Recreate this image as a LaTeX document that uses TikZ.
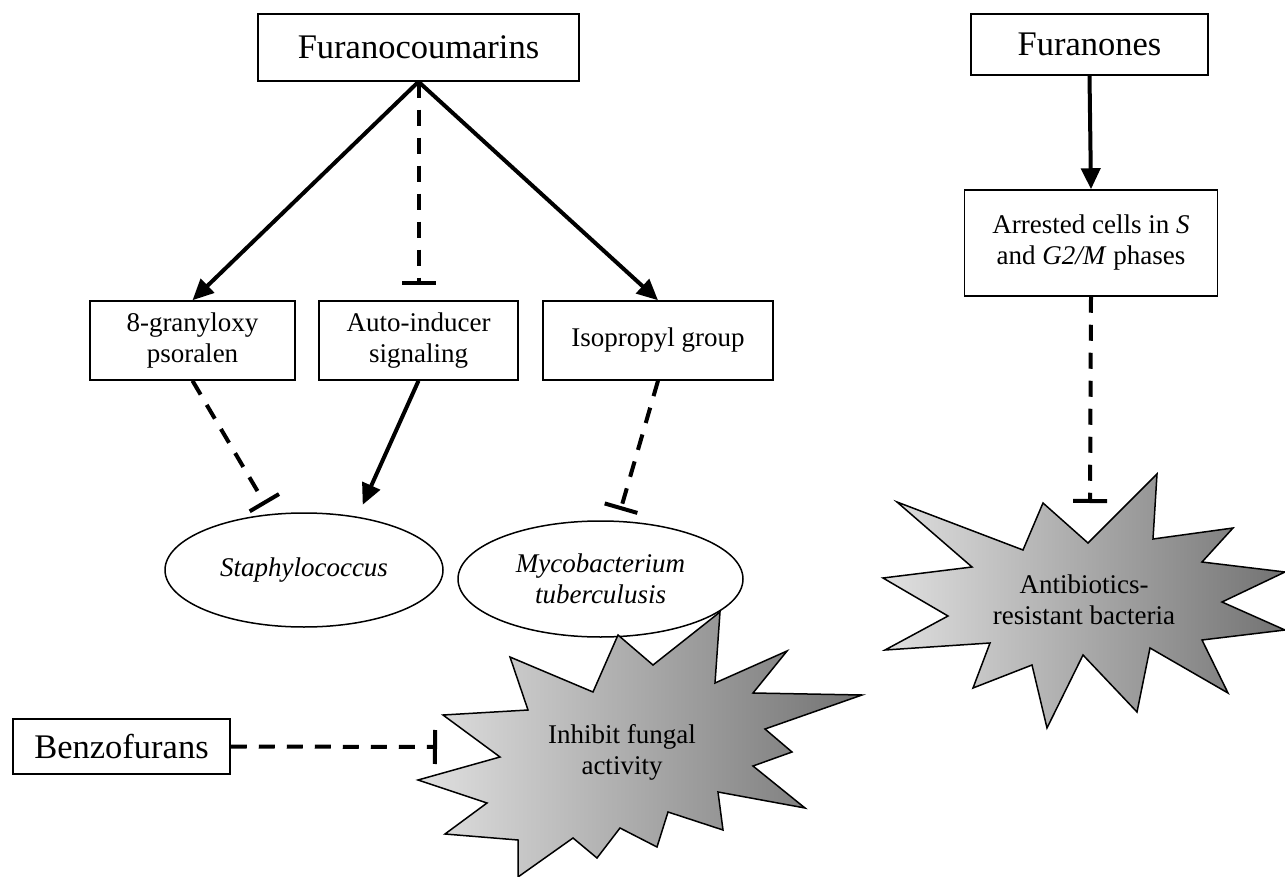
\documentclass[tikz,border=0pt]{standalone}
\usepackage{fontspec}
\setmainfont{Liberation Serif}
\usepackage{xcolor}
\usepackage{tikz}
\usetikzlibrary{shapes,arrows,arrows.meta}
\usetikzlibrary{positioning}
\tikzstyle{block} = [rectangle, draw, line width=1.5pt, fill=white,
    align=center, inner sep=0pt]
\tikzstyle{bigblock} = [block, font=\fontsize{34.5}{40}\selectfont]
\tikzstyle{smallblock} = [block, font=\fontsize{27}{31}\selectfont]
\tikzstyle{organism} = [ellipse, draw, line width=1.5pt, fill=white,
    align=center, inner sep=0pt, font=\fontsize{27}{31}\selectfont\itshape]
\tikzstyle{burst} = [draw, line width=1.5pt, left color=black!12,
    right color=black!55]
\tikzstyle{bursttext} = [align=center, font=\fontsize{27}{31}\selectfont]
\tikzstyle{line} = [draw, line width=4pt, -{Triangle[length=21pt,width=19pt]}]
\tikzstyle{inhibit} = [draw, line width=4pt, dash pattern=on 16pt off 12pt,
    -{Bar[width=34pt]}]

\begin{document}
\begin{tikzpicture}[x=1pt, y=-1pt]
  \useasboundingbox (0,0) rectangle (1285,877);
  % Place nodes
  \node [bigblock, minimum width=321, minimum height=67] (furano) at (418.5,47.5) {Furanocoumarins};
  \node [bigblock, minimum width=237, minimum height=61] (furanones) at (1089.5,44.5) {Furanones};
  \node [bigblock, minimum width=217, minimum height=55] (benzo) at (121.5,746.5) {Benzofurans};
  \node [smallblock, minimum width=205, minimum height=79] (gran) at (192.5,340.5) {8-granyloxy\\psoralen};
  \node [smallblock, minimum width=199, minimum height=79] (auto) at (418.5,340.5) {Auto-inducer\\signaling};
  \node [smallblock, minimum width=230, minimum height=79] (iso) at (658,340.5) {Isopropyl group};
  \node [smallblock, minimum width=253, minimum height=106] (arrested) at (1091,243)
    {Arrested cells in \textit{S}\\and \textit{G2/M} phases};
  \node [organism, minimum width=278, minimum height=114] (staph) at (304,570) {Staphylococcus};
  \node [organism, minimum width=285, minimum height=116] (myco) at (600.5,579) {Mycobacterium\\tuberculusis};
  % Bursts
  \draw [burst] (618,635) -- (653,665) -- (720,612) -- (715,683) -- (787,651)
    -- (753,693) -- (862,695) -- (765,729) -- (792,752) -- (753,766)
    -- (805,808) -- (718,792) -- (723,830) -- (668,812) -- (657,847)
    -- (620,828) -- (597,858) -- (573,838) -- (518,877) -- (518,840)
    -- (445,834) -- (487,803) -- (418,780) -- (500,757) -- (443,715)
    -- (528,710) -- (510,657) -- (593,692) -- cycle;
  \node [bursttext] (fungal) at (622,752) {Inhibit fungal\\activity};
  \draw [burst] (1157,474) -- (1153,539) -- (1233,528) -- (1202,562) -- (1285,572)
    -- (1222,602) -- (1285,630) -- (1202,640) -- (1228,693) -- (1150,648)
    -- (1137,712) -- (1083,655) -- (1047,728) -- (1032,665) -- (973,688)
    -- (990,643) -- (885,650) -- (948,616) -- (883,578) -- (972,567)
    -- (897,502) -- (1023,550) -- (1043,503) -- (1088,543) -- cycle;
  \node [bursttext] (resist) at (1084,600) {Antibiotics-\\resistant bacteria};
  \coordinate (fungalin) at (437,747);
  \coordinate (resistin) at (1090,503);
  % Draw edges
  \path [line] (furano.south) -- (gran.north);
  \path [line] (furano.south) -- (iso.north);
  \path [inhibit, shorten >=15pt] (furano.south) -- (auto.north);
  \path [inhibit, shorten >=11pt] (gran.south) -- (staph);
  \path [line, shorten >=13pt] (auto.south) -- (staph.45);
  \path [inhibit, shorten >=11pt] (iso.south) -- (myco);
  \path [line] (furanones.south) -- (arrested.north);
  \path [inhibit] (arrested.south) -- (resistin);
  \path [inhibit] (benzo.east) -- (fungalin);
\end{tikzpicture}
\end{document}
